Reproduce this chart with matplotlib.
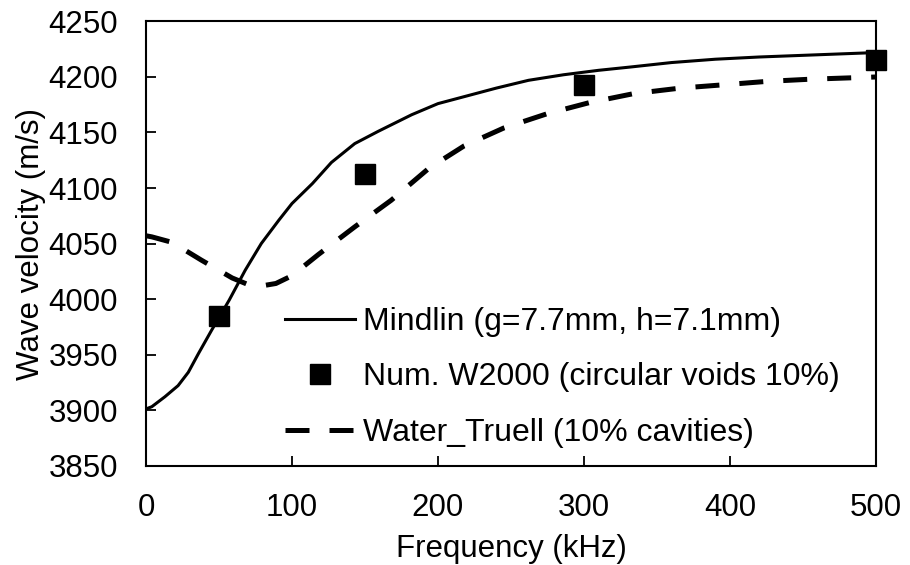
import matplotlib
matplotlib.use("Agg")
import matplotlib.pyplot as plt

# === Datos ===
freq_mindlin = [0, 4, 13, 22, 29, 36, 45, 57, 68, 79, 91, 100, 114, 127, 143, 159, 182, 200,
                220, 240, 262, 286, 310, 332, 360, 390, 420, 460, 500]
vel_mindlin = [3901, 3903, 3912, 3922, 3934, 3951, 3972, 3999, 4026, 4050, 4071, 4086, 4104,
               4123, 4140, 4151, 4166, 4176, 4183, 4190, 4197, 4202, 4206, 4209, 4213, 4216,
               4218, 4220, 4222]

freq_num = [50, 150, 300, 500]
vel_num = [3985, 4113, 4193, 4215]

freq_truell = [0, 4, 18, 38, 59, 70, 80, 89, 100, 118, 143, 168, 194, 218, 245, 275, 304,
               334, 366, 396, 425, 455, 500]
vel_truell = [4057, 4056, 4051, 4035, 4019, 4013, 4012, 4014, 4021, 4040, 4065, 4089, 4118,
              4138, 4154, 4167, 4177, 4185, 4190, 4193, 4196, 4198, 4200]

plt.rcParams["font.family"] = ["Liberation Sans", "DejaVu Sans"]

fig = plt.figure(figsize=(9.1, 5.65), dpi=100)
ax = fig.add_axes([0.1604, 0.176, 0.8022, 0.786])

ax.plot(freq_mindlin, vel_mindlin, color="black", lw=2.2,
        label="Mindlin (g=7.7mm, h=7.1mm)")
ax.plot(freq_num, vel_num, linestyle="none", marker="s", markersize=14,
        color="black", clip_on=False, zorder=5,
        label="Num. W2000 (circular voids 10%)")
ax.plot(freq_truell, vel_truell, color="black", lw=3.6,
        linestyle=(0, (4.8, 4)), label="Water_Truell (10% cavities)")

ax.set_xlim(0, 500)
ax.set_ylim(3850, 4250)
ax.set_xticks(range(0, 501, 100))
ax.set_yticks(range(3850, 4251, 50))
ax.tick_params(direction="in", length=7, width=1.3, labelsize=22.5, pad=20)
for s in ax.spines.values():
    s.set_linewidth(1.5)

ax.set_xlabel("Frequency (kHz)", fontsize=22.5, labelpad=8)
ax.set_ylabel("Wave velocity (m/s)", fontsize=22.5, labelpad=2)

ax.legend(loc="lower left", bbox_to_anchor=(0.19, 0.04), frameon=False,
          fontsize=23, handlelength=2.2, handletextpad=0.25, labelspacing=0.8,
          borderpad=0, borderaxespad=0)

fig.savefig("out.png", dpi=100)
